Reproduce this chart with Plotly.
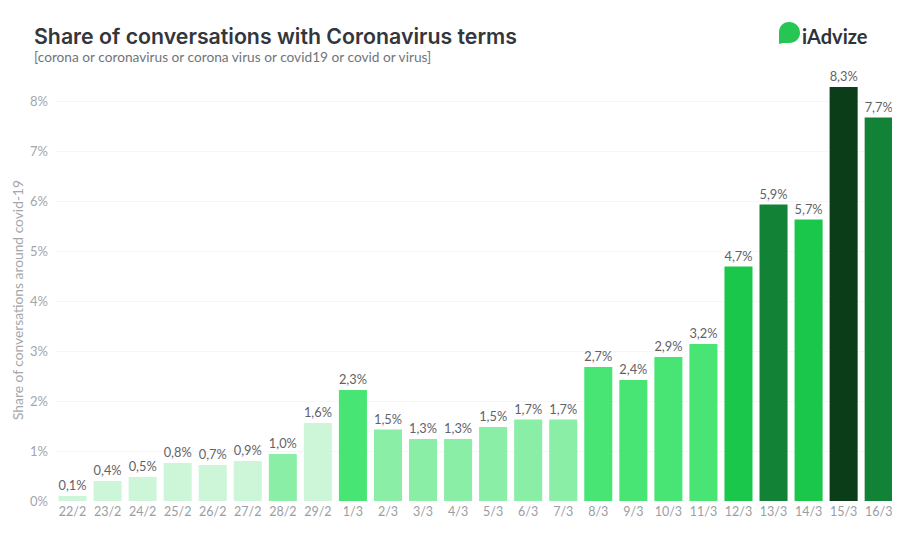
import plotly.graph_objects as go

# Values
days = ['22/2', '23/2', '24/2', '25/2', '26/2', '27/2', '28/2', '29/2',
        '1/3', '2/3', '3/3', '4/3', '5/3', '6/3', '7/3', '8/3', '9/3',
        '10/3', '11/3', '12/3', '13/3', '14/3', '15/3', '16/3']
share = [0.10, 0.40, 0.48, 0.76, 0.72, 0.80, 0.94, 1.56,
         2.22, 1.43, 1.24, 1.24, 1.48, 1.63, 1.63, 2.68, 2.42,
         2.88, 3.14, 4.69, 5.93, 5.63, 8.28, 7.67]
labels = ['0,1%', '0,4%', '0,5%', '0,8%', '0,7%', '0,9%', '1,0%', '1,6%',
          '2,3%', '1,5%', '1,3%', '1,3%', '1,5%', '1,7%', '1,7%', '2,7%', '2,4%',
          '2,9%', '3,2%', '4,7%', '5,9%', '5,7%', '8,3%', '7,7%']
levels = ['a', 'a', 'a', 'a', 'a', 'a', 'b', 'a',
          'c', 'b', 'b', 'b', 'b', 'b', 'b', 'c', 'c',
          'c', 'c', 'd', 'e', 'd', 'f', 'e']
y_ticks = [0, 1, 2, 3, 4, 5, 6, 7, 8]
y_tick_labels = ['0%', '1%', '2%', '3%', '4%', '5%', '6%', '7%', '8%']

# Set up colors for the graph
greens = {
    'a': '#cdf6d8',
    'b': '#8beea6',
    'c': '#48e575',
    'd': '#1ac74b',
    'e': '#128336',
    'f': '#0a3d18',
}
font_name = 'Lato'


# Page pixels to paper coordinates, for the header texts and the logo
def px(x):
    return (x - 55) / 837


def py(y):
    return (501 - y) / 430


fig = go.Figure()

fig.add_trace(go.Bar(
    x=days,
    y=share,
    text=labels,
    textposition='outside',
    cliponaxis=False,
    textfont={'size': 13, 'color': '#5f6368'},
    marker={'color': [greens[k] for k in levels], 'line': {'width': 0}},
    width=0.8,
    hoverinfo='skip',
))

fig.update_xaxes(
    type='category',
    range=[-0.5, 23.38],
    showgrid=False,
    showline=False,
    ticks='',
    ticklabelstandoff=1,
    tickfont={'size': 12.5, 'color': '#9a9ea3'},
)
fig.update_yaxes(
    range=[0, 8.6],
    tickvals=y_ticks,
    ticktext=y_tick_labels,
    showgrid=True,
    gridcolor='#f6f6f6',
    gridwidth=1,
    zeroline=False,
    ticks='',
    ticklabelstandoff=6,
    tickfont={'size': 13, 'color': '#a3a6aa'},
)

# Axis title sits below the middle of the plot, so it is an annotation
fig.add_annotation(text='Share of conversations around covid-19',
                   xref='paper', yref='paper', x=px(17), y=py(300),
                   xanchor='center', yanchor='middle', showarrow=False, textangle=-90,
                   font={'size': 13.8, 'color': '#a3a6aa'})

# Title, subtitle and logo
fig.add_annotation(text='Share of conversations with Coronavirus terms',
                   xref='paper', yref='paper', x=px(33), y=py(36),
                   xanchor='left', yanchor='middle', showarrow=False, xshift=-1,
                   font={'family': 'Inter', 'weight': 600, 'size': 21.3, 'color': '#33373d'})
fig.add_annotation(text='[corona or coronavirus or corona virus or covid19 or covid or virus]',
                   xref='paper', yref='paper', x=px(33), y=py(57),
                   xanchor='left', yanchor='middle', showarrow=False, xshift=-1,
                   font={'size': 13.7, 'color': '#70757a'})
fig.add_annotation(text='<b>iAdvize</b>',
                   xref='paper', yref='paper', x=px(869), y=py(36),
                   xanchor='right', yanchor='middle', showarrow=False, xshift=1,
                   font={'size': 20, 'color': '#2f3338'})
bubble = (f'M {px(779)} {py(44)} L {px(779)} {py(33)} '
          f'C {px(779)} {py(26)} {px(783)} {py(22)} {px(789)} {py(22)} '
          f'C {px(795)} {py(22)} {px(800)} {py(26)} {px(800)} {py(33)} '
          f'C {px(800)} {py(39)} {px(795)} {py(43)} {px(789)} {py(43)} '
          f'L {px(783)} {py(43)} Z')
fig.add_shape(type='path', xref='paper', yref='paper', layer='above',
              path=bubble, fillcolor='#25c653', line={'width': 0})

fig.update_layout(
    # The page keeps a margin of 8 px around the figure
    width=884,
    height=518,
    margin={'l': 47, 'r': 0, 't': 63, 'b': 25, 'pad': 0},
    paper_bgcolor='white',
    plot_bgcolor='white',
    showlegend=False,
    font={'family': font_name},
)

fig.write_html('out.html')
